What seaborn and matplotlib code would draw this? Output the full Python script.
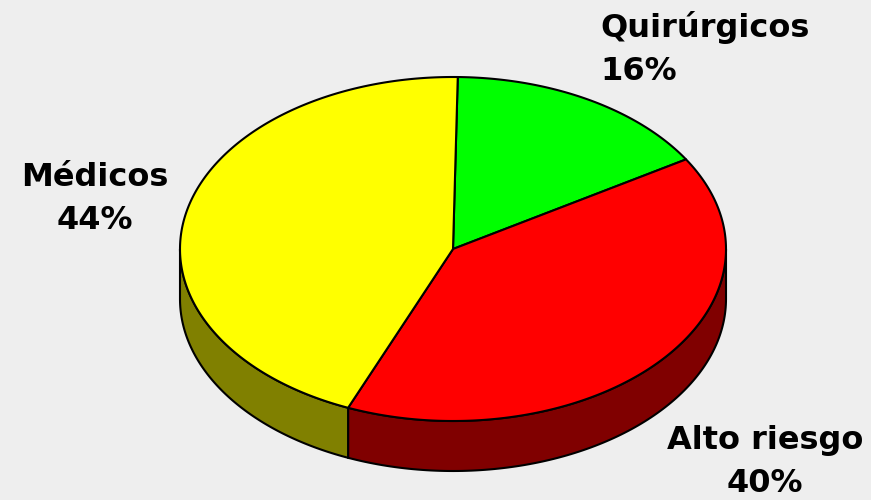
import numpy as np
import matplotlib
matplotlib.use("Agg")
import matplotlib.pyplot as plt
import seaborn as sns

# --- Data ---
labels = ["Quirúrgicos", "Alto riesgo", "Médicos"]
values = [16, 40, 44]
top_colors = ["#00FF00", "#FF0000", "#FFFF00"]
side_colors = ["#008000", "#800000", "#808000"]

sns.set_theme(style="white")
plt.rcParams["font.family"] = ["DejaVu Sans"]

fig = plt.figure(figsize=(8.71, 5), dpi=100, facecolor="#EEEEEE")
ax = fig.add_axes([0, 0, 1, 1])
ax.set_facecolor("#EEEEEE")
ax.set_xlim(0, 871)
ax.set_ylim(500, 0)
ax.axis("off")

# pie geometry (pixel space)
cx, cy, a, b, depth = 453, 249, 273, 172, 50
start = 89

def pt(deg, dy=0):
    t = np.radians(deg)
    return cx + a * np.cos(t), cy - b * np.sin(t) + dy

fracs = np.array(values) / sum(values) * 360
ends = start - np.cumsum(fracs)          # clockwise from the top
starts = np.concatenate([[start], ends[:-1]])

# side walls (front half only: 180..360 deg)
for s, e, col in zip(starts, ends, side_colors):
    for shift in (0, 360, -360):
        l2, h2 = max(e + shift, 180), min(s + shift, 360)
        if h2 > l2:
            th = np.linspace(l2, h2, 120)
            x1, y1 = pt(th)
            x2, y2 = pt(th[::-1], depth)
            ax.fill(np.r_[x1, x2], np.r_[y1, y2], color=col,
                    ec="black", lw=1.5, zorder=1)

# top faces
for s, e, col in zip(starts, ends, top_colors):
    th = np.linspace(s, e, 200)
    x, y = pt(th)
    ax.fill(np.r_[cx, x], np.r_[cy, y], color=col, ec="black", lw=1.5,
            joinstyle="round", zorder=2)

# labels
kw = dict(fontsize=23, fontweight="bold", color="black", zorder=3)
ax.text(600, 49, "Quirúrgicos\n16%", ha="left", va="center",
        multialignment="left", linespacing=1.5, **kw)
ax.text(95, 199, "Médicos\n44%", ha="center", va="center",
        multialignment="center", linespacing=1.5, **kw)
ax.text(765, 462, "Alto riesgo\n40%", ha="center", va="center",
        multialignment="center", linespacing=1.5, **kw)

plt.savefig("out.png", dpi=100, facecolor="#EEEEEE")
